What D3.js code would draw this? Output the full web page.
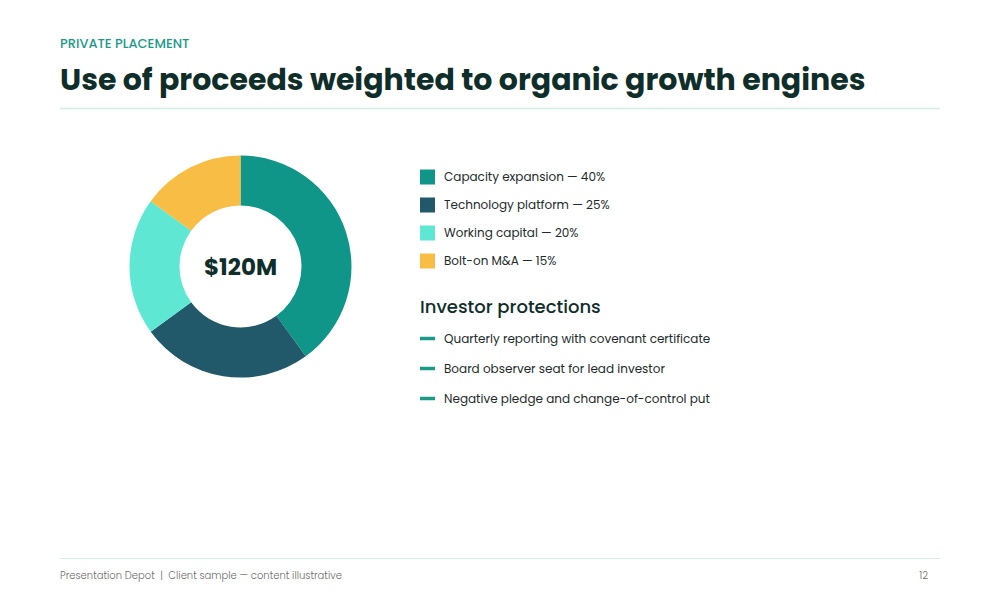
<!DOCTYPE html>
<html><head><meta charset="utf-8">
<script src="https://cdn.jsdelivr.net/npm/d3@7"></script>
<style>
body{margin:0;background:#fff;}
svg{display:block;font-family:Poppins,Inter,"Noto Sans",sans-serif;}
</style></head><body>
<svg id="c" width="1000" height="600"></svg>
<script>
const categories = ["Capacity expansion","Technology platform","Working capital","Bolt-on M&A"];
const shares = [40,25,20,15];
const colors = ["#0f9688","#22596a","#5ee8d4","#f8bd45"];
const protections = ["Quarterly reporting with covenant certificate","Board observer seat for lead investor","Negative pledge and change-of-control put"];
const centerLabel = "$120M";

const svg = d3.select("#c");

svg.append("text").attr("x",60).attr("y",48).attr("fill","#1a9a88")
  .attr("font-size",13).attr("font-weight",500).text("PRIVATE PLACEMENT");
svg.append("text").attr("x",60).attr("y",90).attr("fill","#0f2e2a")
  .attr("font-size",30).attr("font-weight",700).text("Use of proceeds weighted to organic growth engines");
svg.append("line").attr("x1",60).attr("x2",940).attr("y1",108.5).attr("y2",108.5).attr("stroke","#d3eee8").attr("stroke-width",1.5);

// donut
const g = svg.append("g").attr("transform","translate(240.5,266.5)");
const pie = d3.pie().sort(null).value(d=>d);
const arc = d3.arc().innerRadius(61).outerRadius(111);
g.selectAll("path").data(pie(shares)).join("path").attr("d",arc).attr("fill",(d,i)=>colors[i]);
g.append("text").attr("text-anchor","middle").attr("dy","0.35em").attr("fill","#0f2e2a")
  .attr("font-size",23).attr("font-weight",700).text(centerLabel);

// legend
const y = d3.scalePoint().domain(categories).range([177,261]);
const lg = svg.append("g");
categories.forEach((c,i)=>{
  lg.append("rect").attr("x",420).attr("y",y(c)-7.5).attr("width",15).attr("height",15).attr("fill",colors[i]);
  lg.append("text").attr("x",444).attr("y",y(c)).attr("dy","0.35em").attr("fill","#1d2b2a")
    .attr("font-size",12).text(`${c} — ${shares[i]}%`);
});

svg.append("text").attr("x",420).attr("y",313).attr("fill","#0f2e2a").attr("font-size",18).attr("font-weight",500).text("Investor protections");
const py = d3.scalePoint().domain(protections).range([338.5,398.5]);
protections.forEach(p=>{
  svg.append("rect").attr("x",420).attr("y",py(p)-1.75).attr("width",15).attr("height",3.5).attr("fill","#1a9a88");
  svg.append("text").attr("x",444).attr("y",py(p)).attr("dy","0.35em").attr("fill","#1d2b2a").attr("font-size",12).text(p);
});

// footer
svg.append("line").attr("x1",60).attr("x2",940).attr("y1",558.5).attr("y2",558.5).attr("stroke","#d3eee8").attr("stroke-width",1);
svg.append("text").attr("x",60).attr("y",579).attr("fill","#6b6b6b").attr("font-size",10).attr("font-weight",300)
  .style("white-space","pre").text("Presentation Depot  |  Client sample — content illustrative");
svg.append("text").attr("x",928).attr("y",579).attr("text-anchor","end").attr("fill","#6b6b6b").attr("font-size",10).attr("font-weight",300).text("12");
</script>
</body></html>
